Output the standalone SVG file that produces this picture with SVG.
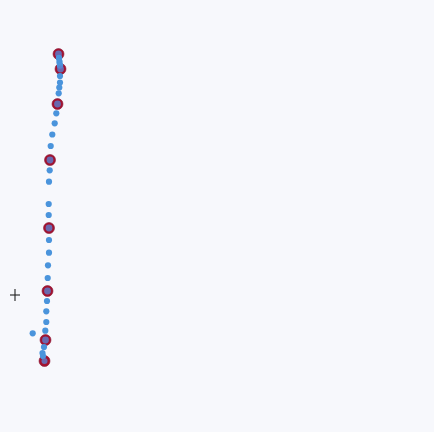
<svg xmlns="http://www.w3.org/2000/svg" width="434" height="432" viewBox="0 0 434 432">
<style>
.bg{fill:#f7f8fc}
.stop{fill:#a3122f;stroke:#8a1838;stroke-width:0.6}
.pt{fill:#4a94dc}
.ps{fill:#5a7fd0;opacity:0.8}
.cross{stroke:#222;stroke-width:1.1}
</style>
<rect class="bg" x="0" y="0" width="434" height="432"/>
<g id="cursor"><line class="cross" x1="15" y1="289" x2="15" y2="301"/><line class="cross" x1="10" y1="295" x2="20" y2="295"/></g>
<g id="stops">
<circle class="stop" cx="58.5" cy="54" r="5.5"/>
<circle class="stop" cx="60.5" cy="69" r="5.5"/>
<circle class="stop" cx="57.5" cy="104" r="5.5"/>
<circle class="stop" cx="50" cy="160" r="5.5"/>
<circle class="stop" cx="49" cy="228" r="5.5"/>
<circle class="stop" cx="47.5" cy="291" r="5.5"/>
<circle class="stop" cx="45.5" cy="340" r="5.5"/>
<circle class="stop" cx="44.5" cy="361" r="5.5"/>
</g>
<g id="track">
<circle class="ps" cx="58.5" cy="54" r="3.4"/>
<circle class="pt" cx="59" cy="58" r="3.2"/>
<circle class="pt" cx="59.5" cy="62" r="3.2"/>
<circle class="pt" cx="60" cy="65.5" r="3.2"/>
<circle class="ps" cx="60.5" cy="69" r="3.4"/>
<circle class="pt" cx="60" cy="76" r="3.1"/>
<circle class="pt" cx="60" cy="82.5" r="3.1"/>
<circle class="pt" cx="59.3" cy="87.5" r="3.1"/>
<circle class="pt" cx="58.7" cy="93.3" r="3.1"/>
<circle class="ps" cx="57.5" cy="104" r="3.4"/>
<circle class="pt" cx="56.3" cy="113.3" r="3.1"/>
<circle class="pt" cx="54.7" cy="123.3" r="3.1"/>
<circle class="pt" cx="52.3" cy="134.5" r="3.1"/>
<circle class="pt" cx="50.7" cy="146" r="3.1"/>
<circle class="ps" cx="50" cy="160" r="3.4"/>
<circle class="pt" cx="49.7" cy="170.3" r="3.1"/>
<circle class="pt" cx="49" cy="181.7" r="3.1"/>
<circle class="pt" cx="48.7" cy="204" r="3.1"/>
<circle class="pt" cx="48.7" cy="215" r="3.1"/>
<circle class="ps" cx="49" cy="228" r="3.4"/>
<circle class="pt" cx="49" cy="240" r="3.1"/>
<circle class="pt" cx="49" cy="252.7" r="3.1"/>
<circle class="pt" cx="48" cy="265.3" r="3.1"/>
<circle class="pt" cx="47.7" cy="278" r="3.1"/>
<circle class="ps" cx="47.5" cy="291" r="3.4"/>
<circle class="pt" cx="47" cy="301" r="3.1"/>
<circle class="pt" cx="46.3" cy="311.3" r="3.1"/>
<circle class="pt" cx="46.3" cy="322" r="3.1"/>
<circle class="pt" cx="45.3" cy="330.7" r="3.1"/>
<circle class="pt" cx="32.7" cy="333.3" r="3.1"/>
<circle class="ps" cx="45.5" cy="340" r="3.4"/>
<circle class="pt" cx="44" cy="347" r="3.1"/>
<circle class="pt" cx="42.5" cy="353" r="3.1"/>
<circle class="pt" cx="43" cy="356" r="3.1"/>
<circle class="ps" cx="44.5" cy="361" r="3"/>
</g>
</svg>
